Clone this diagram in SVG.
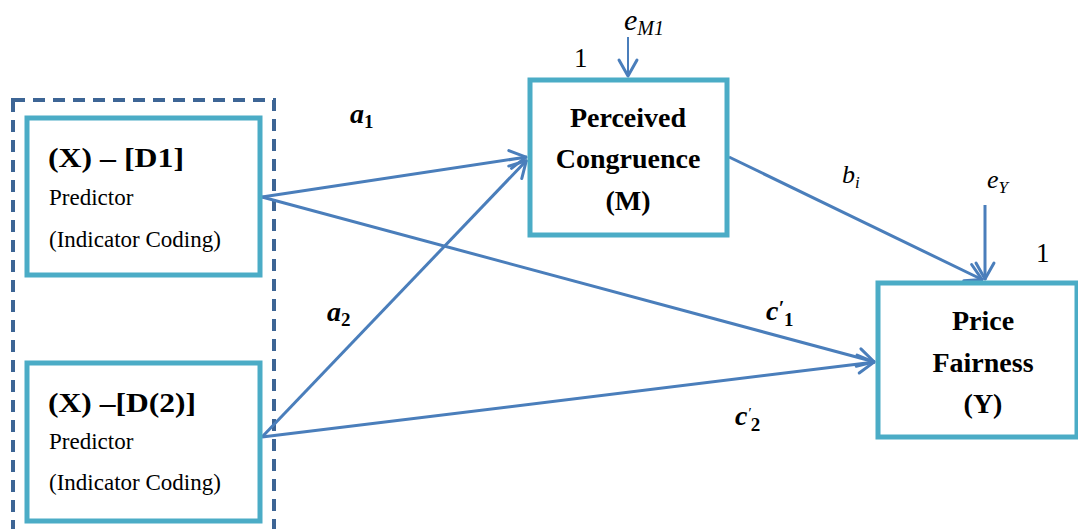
<svg xmlns="http://www.w3.org/2000/svg" width="1078" height="529" viewBox="0 0 1078 529">
<style>
.box{fill:#fff;stroke:#4bacc6;stroke-width:5}
.dash{fill:none;stroke:#3d6595;stroke-width:4;stroke-dasharray:12 8}
.conn{fill:none;stroke:#4a7ebb;stroke-width:3}
.t{font-family:"Liberation Serif",serif;fill:#000}
.b{font-weight:bold;font-size:28px}
.r{font-size:23px}
.m{font-family:"Liberation Serif",serif;font-style:italic;fill:#000}
.mb{font-family:"Liberation Serif",serif;font-style:italic;font-weight:bold;fill:#000}
</style>
<defs>
<marker id="arr" markerUnits="userSpaceOnUse" markerWidth="30" markerHeight="30" refX="1" refY="0" viewBox="-20 -15 30 30" orient="auto" overflow="visible">
<path d="M -16 -9 L 0 0 L -16 9" fill="none" stroke="#4a7ebb" stroke-width="3" stroke-linecap="round" stroke-linejoin="round"/>
</marker>
</defs>
<rect class="dash" x="13" y="100" width="261" height="445"/>
<g id="connectors">
<line class="conn" x1="262" y1="197" x2="527" y2="157" marker-end="url(#arr)"/>
<line class="conn" x1="262" y1="437" x2="527" y2="160" marker-end="url(#arr)"/>
<line class="conn" x1="262" y1="197" x2="875" y2="362" marker-end="url(#arr)"/>
<line class="conn" x1="262" y1="437" x2="875" y2="362" marker-end="url(#arr)"/>
<line class="conn" x1="729" y1="157" x2="983" y2="280" marker-end="url(#arr)"/>
<line class="conn" x1="628" y1="37" x2="628" y2="77" marker-end="url(#arr)" style="stroke-width:2"/>
<line class="conn" x1="985" y1="205" x2="985" y2="280" marker-end="url(#arr)"/>
</g>
<g id="node-d1">
<rect class="box" x="27" y="118" width="233" height="157"/>
<text class="t b" x="48" y="167" textLength="136" lengthAdjust="spacingAndGlyphs">(X) – [D1]</text>
<text class="t r" x="49" y="205">Predictor</text>
<text class="t r" x="49" y="247">(Indicator Coding)</text>
</g>
<g id="node-d2">
<rect class="box" x="27" y="363" width="233" height="158"/>
<text class="t b" x="48" y="412" textLength="148" lengthAdjust="spacingAndGlyphs">(X) –[D(2)]</text>
<text class="t r" x="49" y="449">Predictor</text>
<text class="t r" x="49" y="490">(Indicator Coding)</text>
</g>
<g id="node-m">
<rect class="box" x="530" y="80" width="197" height="155"/>
<text class="t b" x="628" y="127" text-anchor="middle">Perceived</text>
<text class="t b" x="628" y="168" text-anchor="middle">Congruence</text>
<text class="t b" x="628" y="210" text-anchor="middle">(M)</text>
</g>
<g id="node-y">
<rect class="box" x="878" y="283" width="199" height="154"/>
<text class="t b" x="983" y="330" text-anchor="middle">Price</text>
<text class="t b" x="983" y="372" text-anchor="middle">Fairness</text>
<text class="t b" x="983" y="413" text-anchor="middle">(Y)</text>
</g>
<g id="labels">
<text class="t" x="574" y="67" style="font-size:27px">1</text>
<text class="t" x="1036" y="262" style="font-size:27px">1</text>
<text class="m" x="624" y="30" style="font-size:30px">e<tspan style="font-size:20px" dy="5">M1</tspan></text>
<text class="m" x="987" y="188" style="font-size:26px">e<tspan style="font-size:17px" dy="5">Y</tspan></text>
<text class="m" x="842" y="183" style="font-size:26px">b<tspan style="font-size:17px" dy="5">i</tspan></text>
<text class="mb" x="350" y="123" style="font-size:28px">a<tspan style="font-size:19px;font-style:normal" dy="5">1</tspan></text>
<text class="mb" x="327" y="321" style="font-size:28px">a<tspan style="font-size:19px;font-style:normal" dy="5">2</tspan></text>
<text class="mb" x="766" y="320" style="font-size:28px">c<tspan style="font-size:20px" dy="-5">′</tspan><tspan style="font-size:19px;font-style:normal" dy="11">1</tspan></text>
<text class="mb" x="735" y="425" style="font-size:28px">c<tspan style="font-size:15px;font-weight:normal" dy="-7">′</tspan><tspan style="font-size:19px;font-style:normal" dy="13">2</tspan></text>
</g>
</svg>
